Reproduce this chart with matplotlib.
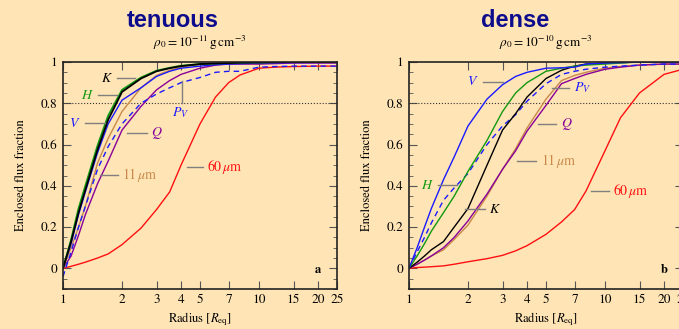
import numpy as np
import matplotlib
matplotlib.use('Agg')
import matplotlib.pyplot as plt

plt.rcParams['font.family'] = ['STIXGeneral', 'DejaVu Serif']
plt.rcParams['mathtext.fontset'] = 'stix'

# radius grid [R_eq], shared by both panels
radius = [1, 1.1, 1.2, 1.3, 1.5, 1.7, 2, 2.5, 3, 3.5, 4, 5, 6, 7, 8, 10, 12, 15, 20, 25]

# tenuous disk, rho0 = 1e-11
ten_K = [0, 0.13, 0.27, 0.38, 0.575, 0.72, 0.855, 0.92, 0.955, 0.97, 0.98, 0.99, 0.993, 0.995, 0.997, 0.998, 0.999, 1.0, 1.0, 1.0]
ten_H = [0, 0.14, 0.29, 0.40, 0.595, 0.74, 0.865, 0.925, 0.958, 0.972, 0.982, 0.99, 0.993, 0.995, 0.997, 0.998, 0.999, 1.0, 1.0, 1.0]
ten_V = [0, 0.12, 0.26, 0.37, 0.56, 0.70, 0.815, 0.875, 0.93, 0.955, 0.97, 0.98, 0.987, 0.99, 0.992, 0.995, 0.996, 0.997, 0.998, 0.998]
ten_PV = [-0.04, 0.08, 0.2, 0.30, 0.48, 0.59, 0.70, 0.80, 0.845, 0.875, 0.9, 0.925, 0.95, 0.955, 0.955, 0.975, 0.978, 0.98, 0.98, 0.98]
ten_11 = [0, 0.1, 0.2, 0.30, 0.51, 0.63, 0.76, 0.875, 0.935, 0.96, 0.975, 0.99, 0.993, 0.995, 0.997, 0.998, 0.999, 1.0, 1.0, 1.0]
ten_Q = [0, 0.06, 0.16, 0.26, 0.41, 0.52, 0.67, 0.785, 0.865, 0.91, 0.94, 0.97, 0.985, 0.99, 0.99, 0.99, 0.992, 0.995, 0.995, 0.995]
ten_60 = [0, 0.01, 0.02, 0.03, 0.05, 0.07, 0.115, 0.195, 0.285, 0.37, 0.50, 0.70, 0.83, 0.90, 0.937, 0.97, 0.975, 0.978, 0.98, 0.98]

# dense disk, rho0 = 1e-10
den_V = [0, 0.10, 0.20, 0.29, 0.43, 0.54, 0.69, 0.82, 0.89, 0.93, 0.95, 0.97, 0.972, 0.975, 0.99, 0.995, 0.997, 1.0, 1.0, 1.0]
den_H = [0, 0.06, 0.12, 0.18, 0.27, 0.35, 0.47, 0.62, 0.76, 0.85, 0.90, 0.955, 0.97, 0.98, 0.985, 0.99, 0.995, 1.0, 1.0, 1.0]
den_K = [0, 0.03, 0.06, 0.09, 0.13, 0.2, 0.29, 0.5, 0.67, 0.75, 0.83, 0.92, 0.96, 0.98, 0.99, 0.995, 0.997, 1.0, 1.0, 1.0]
den_PV = [0, 0.08, 0.15, 0.22, 0.33, 0.39, 0.46, 0.6, 0.69, 0.745, 0.81, 0.895, 0.94, 0.955, 0.965, 0.975, 0.98, 0.985, 0.99, 0.99]
den_Q = [0, 0.02, 0.04, 0.06, 0.10, 0.15, 0.23, 0.36, 0.48, 0.57, 0.665, 0.79, 0.895, 0.92, 0.94, 0.965, 0.975, 0.985, 0.99, 0.99]
den_11 = [0, 0.02, 0.04, 0.06, 0.09, 0.14, 0.21, 0.35, 0.48, 0.58, 0.68, 0.82, 0.91, 0.935, 0.95, 0.97, 0.978, 0.985, 0.99, 0.99]
den_60 = [0, 0.004, 0.006, 0.008, 0.012, 0.02, 0.032, 0.047, 0.063, 0.085, 0.11, 0.165, 0.225, 0.285, 0.375, 0.57, 0.73, 0.85, 0.94, 0.965]

xticks = [1, 2, 3, 4, 5, 7, 10, 15, 20, 25]

bg = '#FFE4B5'
cols = {'V': '#1a1aff', 'PV': '#1a1aff', 'H': '#119911', 'K': 'black',
        'Q': '#880099', '11': '#c8894a', '60': '#ff1010'}
grey = '#7f7f7f'

fig = plt.figure(figsize=(6.79, 3.29), dpi=100, facecolor=bg)
ax1 = fig.add_axes([63/679, 40/329, 274/679, 227/329])
ax2 = fig.add_axes([409/679, 40/329, 274/679, 227/329])


def setup(ax, letter):
    ax.set_facecolor(bg)
    ax.set_xscale('log')
    ax.set_xlim(1, 25)
    ax.set_ylim(-0.1, 1.0)
    ax.set_xticks(xticks)
    ax.set_xticklabels([str(t) for t in xticks])
    ax.xaxis.set_minor_locator(matplotlib.ticker.NullLocator())
    ax.set_yticks([0, 0.2, 0.4, 0.6, 0.8, 1])
    ax.set_yticklabels(['0', '0.2', '0.4', '0.6', '0.8', '1'])
    ax.set_yticks(np.arange(-0.1, 1.0, 0.05), minor=True)
    ax.tick_params(which='both', direction='in', top=True, right=True,
                   labelsize=9.5, color='#555555', pad=4)
    ax.tick_params(which='major', length=6)
    ax.tick_params(which='minor', length=3)
    for s in ax.spines.values():
        s.set_linewidth(1.2)
        s.set_color('#222222')
    ax.axhline(0.8, color='#333333', ls=':', lw=0.8)
    ax.set_xlabel(r'Radius [$R_{\rm eq}$]', fontsize=9, labelpad=3)
    ax.set_ylabel('Enclosed flux fraction', fontsize=9, labelpad=10)
    ax.text(0.93, 0.085, letter, transform=ax.transAxes, fontsize=9,
            fontweight='bold', ha='center', va='center')


def label(ax, x0, x1, y, txt, c, side):
    ax.plot([x0, x1], [y, y], color=grey, lw=1.0)
    if side == 'left':
        ax.text(x0 / 1.05, y, txt, color=c, fontsize=10, ha='right', va='center')
    else:
        ax.text(x1 * 1.05, y, txt, color=c, fontsize=10, ha='left', va='center')


setup(ax1, 'a')
setup(ax2, 'b')

lw = 1.0
ax1.plot(radius, ten_60, color=cols['60'], lw=lw)
ax1.plot(radius, ten_Q, color=cols['Q'], lw=lw)
ax1.plot(radius, ten_11, color=cols['11'], lw=lw)
ax1.plot(radius, ten_PV, color=cols['PV'], lw=lw, ls=(0, (4, 3)))
ax1.plot(radius, ten_V, color=cols['V'], lw=lw)
ax1.plot(radius, ten_H, color=cols['H'], lw=1.3)
ax1.plot(radius, ten_K, color=cols['K'], lw=1.3)

ax2.plot(radius, den_60, color=cols['60'], lw=lw)
ax2.plot(radius, den_11, color=cols['11'], lw=lw)
ax2.plot(radius, den_Q, color=cols['Q'], lw=lw)
ax2.plot(radius, den_PV, color=cols['PV'], lw=lw, ls=(0, (4, 3)))
ax2.plot(radius, den_K, color=cols['K'], lw=lw)
ax2.plot(radius, den_H, color=cols['H'], lw=lw)
ax2.plot(radius, den_V, color=cols['V'], lw=lw)

# labels, tenuous
label(ax1, 1.885, 2.33, 0.923, r'$K$', cols['K'], 'left')
label(ax1, 1.51, 1.885, 0.84, r'$H$', cols['H'], 'left')
label(ax1, 1.295, 1.64, 0.705, r'$V$', cols['V'], 'left')
label(ax1, 2.12, 2.68, 0.657, r'$Q$', cols['Q'], 'right')
label(ax1, 1.545, 1.91, 0.454, r'11$\,\mu$m', cols['11'], 'right')
label(ax1, 4.29, 5.17, 0.493, r'60$\,\mu$m', cols['60'], 'right')
ax1.plot([4.05, 4.05], [0.80, 0.91], color=grey, lw=1.0)
ax1.text(3.98, 0.755, r'$P_V$', color=cols['PV'], fontsize=10, ha='center', va='center')

# labels, dense
label(ax2, 2.38, 3.0, 0.904, r'$V$', cols['V'], 'left')
label(ax2, 5.39, 6.58, 0.875, r'$P_V$', cols['PV'], 'right')
label(ax2, 4.53, 5.65, 0.70, r'$Q$', cols['Q'], 'right')
label(ax2, 3.54, 4.47, 0.518, r'11$\,\mu$m', cols['11'], 'right')
label(ax2, 8.51, 10.5, 0.373, r'60$\,\mu$m', cols['60'], 'right')
label(ax2, 1.40, 1.75, 0.402, r'$H$', cols['H'], 'left')
label(ax2, 1.925, 2.43, 0.287, r'$K$', cols['K'], 'right')

# titles
fig.text(173/679, 1 - 27/329, 'tenuous', fontsize=17, fontweight='bold',
         family='Liberation Sans', color='#0c0c8c', ha='center', va='baseline')
fig.text(515/679, 1 - 27/329, 'dense', fontsize=17, fontweight='bold',
         family='Liberation Sans', color='#0c0c8c', ha='center', va='baseline')
fig.text(200/679, 1 - 47/329, r'$\rho_0 = 10^{-11}\,\mathrm{g\,cm^{-3}}$',
         fontsize=9.5, ha='center', va='baseline')
fig.text(546/679, 1 - 47/329, r'$\rho_0 = 10^{-10}\,\mathrm{g\,cm^{-3}}$',
         fontsize=9.5, ha='center', va='baseline')

fig.savefig('out.png', dpi=100, facecolor=bg)
